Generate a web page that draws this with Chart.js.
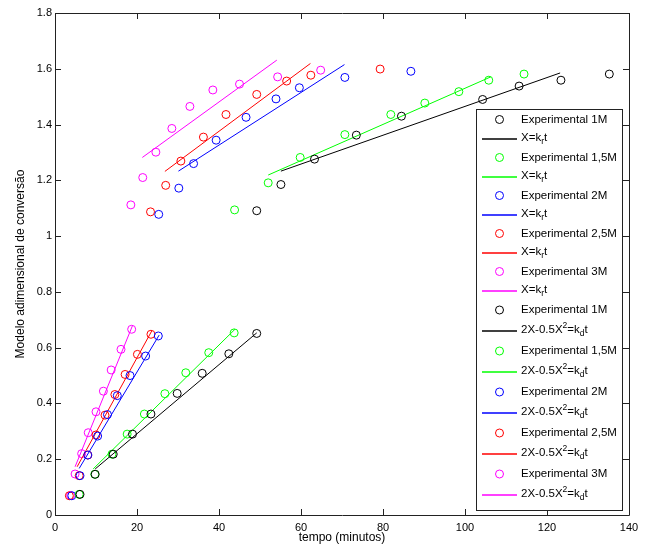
<!DOCTYPE html>
<html>
<head>
<meta charset="utf-8">
<script src="https://cdn.jsdelivr.net/npm/chart.js@4.4.0/dist/chart.umd.min.js"></script>
<style>
  html, body { margin: 0; padding: 0; background: #fff; }
  #grafico { display: block; }
</style>
</head>
<body>
<canvas id="grafico" width="656" height="545"></canvas>
<script>
// concentrações e cores (k, g, b, r, m)
const concentracoes = ['1M', '1,5M', '2M', '2,5M', '3M'];
const cores = ['#000000', '#00ff00', '#0000ff', '#ff0000', '#ff00ff'];

// pontos experimentais - modelo X = kr t (parte de cima)
const tempoR1 = [49.2, 55.1, 63.3, 73.5, 84.5, 104.3, 113.2, 123.4, 135.2];
const convR1 = [1.091, 1.185, 1.276, 1.362, 1.430, 1.490, 1.538, 1.559, 1.581];
const tempoR15 = [43.8, 52.0, 59.8, 70.7, 81.9, 90.2, 98.5, 105.8, 114.4];
const convR15 = [1.094, 1.191, 1.282, 1.364, 1.436, 1.477, 1.518, 1.559, 1.581];
const tempoR2 = [25.3, 30.2, 33.8, 39.3, 46.6, 53.9, 59.6, 70.7, 86.8];
const convR2 = [1.078, 1.172, 1.260, 1.344, 1.426, 1.492, 1.532, 1.569, 1.591];
const tempoR25 = [23.3, 27.0, 30.7, 36.2, 41.7, 49.2, 56.5, 62.4, 79.3];
const convR25 = [1.087, 1.182, 1.269, 1.355, 1.436, 1.508, 1.556, 1.577, 1.599];
const tempoR3 = [18.5, 21.4, 24.6, 28.5, 32.9, 38.5, 45.0, 54.3, 64.8];
const convR3 = [1.112, 1.210, 1.301, 1.386, 1.465, 1.524, 1.545, 1.571, 1.595];

// retas ajustadas X = kr t (início e fim)
const retaTempoR = [[55.1, 123.2], [52.0, 106.3], [30.1, 70.6], [26.8, 62.3], [21.3, 54.1]];
const retaConvR = [[1.233, 1.585], [1.219, 1.571], [1.233, 1.615], [1.232, 1.619], [1.282, 1.631]];

// pontos experimentais - modelo 2X-0.5X^2 = kd t (parte de baixo)
const tempoD1 = [6.1, 9.8, 14.2, 18.9, 23.4, 29.8, 35.9, 42.4, 49.2];
const convD1 = [0.074, 0.146, 0.218, 0.290, 0.362, 0.436, 0.508, 0.578, 0.651];
const tempoD15 = [5.9, 9.7, 13.9, 17.6, 21.8, 26.8, 31.9, 37.5, 43.7];
const convD15 = [0.074, 0.146, 0.218, 0.290, 0.362, 0.435, 0.510, 0.582, 0.653];
const tempoD2 = [4.1, 6.1, 8.0, 10.4, 12.8, 15.2, 18.3, 22.1, 25.2];
const convD2 = [0.069, 0.141, 0.215, 0.283, 0.360, 0.428, 0.500, 0.570, 0.642];
const tempoD25 = [3.5, 5.9, 8.0, 10.0, 12.2, 14.6, 17.1, 20.1, 23.4];
const convD25 = [0.069, 0.141, 0.215, 0.287, 0.358, 0.432, 0.504, 0.576, 0.648];
const tempoD3 = [3.8, 4.9, 6.5, 8.1, 10.0, 11.8, 13.7, 16.1, 18.7];
const convD3 = [0.070, 0.147, 0.220, 0.295, 0.370, 0.444, 0.520, 0.594, 0.666];

// retas ajustadas 2X-0.5X^2 = kd t
const retaTempoD = [[9.8, 49.2], [9.3, 43.9], [5.9, 25.4], [5.4, 23.6], [4.9, 18.9]];
const retaConvD = [[0.165, 0.653], [0.165, 0.666], [0.167, 0.645], [0.173, 0.660], [0.173, 0.679]];

const ticksX = [0, 20, 40, 60, 80, 100, 120, 140];
const ticksY = [0, 0.2, 0.4, 0.6, 0.8, 1, 1.2, 1.4, 1.6, 1.8];

const expR = [[tempoR1, convR1], [tempoR15, convR15], [tempoR2, convR2], [tempoR25, convR25], [tempoR3, convR3]];
const expD = [[tempoD1, convD1], [tempoD15, convD15], [tempoD2, convD2], [tempoD25, convD25], [tempoD3, convD3]];

function pontos(t, x) {
    return t.map((v, i) => ({ x: v, y: x[i] }));
}

const FONTE = '"Liberation Sans", Arial, sans-serif';

// monta os datasets e a legenda na mesma ordem
const datasets = [];
const legenda = [];
const formulaR = [{ t: 'X=k' }, { t: 'r', sub: true }, { t: 't' }];
const formulaD = [{ t: '2X-0.5X' }, { t: '2', sup: true }, { t: '=k' }, { t: 'd', sub: true }, { t: 't' }];

function adiciona(exp, retaT, retaC, formula) {
    exp.forEach(([t, c], i) => {
        datasets.push({
            data: pontos(t, c),
            borderColor: cores[i],
            backgroundColor: 'rgba(0,0,0,0)',
            pointRadius: 4,
            pointBorderWidth: 1,
            showLine: false
        });
        datasets.push({
            data: pontos(retaT[i], retaC[i]),
            borderColor: cores[i],
            borderWidth: 1,
            pointRadius: 0,
            showLine: true
        });
        legenda.push({ tipo: 'ponto', cor: cores[i], partes: [{ t: 'Experimental ' + concentracoes[i] }] });
        legenda.push({ tipo: 'linha', cor: cores[i], partes: formula });
    });
}
adiciona(expR, retaTempoR, retaConvR, formulaR);
adiciona(expD, retaTempoD, retaConvD, formulaD);

function escreve(ctx, partes, x, y) {
    for (const p of partes) {
        const pequeno = p.sub || p.sup;
        ctx.font = (pequeno ? 8.5 : 11.5) + 'px ' + FONTE;
        const dy = p.sub ? 4 : (p.sup ? -4 : 0);
        ctx.fillText(p.t, x, y + dy);
        x += ctx.measureText(p.t).width;
    }
}

// moldura com ticks para dentro, estilo matlab
const moldura = {
    id: 'moldura',
    afterDraw(chart) {
        const { ctx, chartArea: a, scales } = chart;
        ctx.save();
        ctx.strokeStyle = '#222';
        ctx.lineWidth = 1;
        ctx.beginPath();
        ctx.rect(Math.round(a.left) + 0.5, Math.round(a.top) + 0.5,
            Math.round(a.right - a.left), Math.round(a.bottom - a.top));
        const tam = 6;
        ticksX.forEach(v => {
            const px = Math.round(scales.x.getPixelForValue(v)) + 0.5;
            ctx.moveTo(px, a.bottom); ctx.lineTo(px, a.bottom - tam);
            ctx.moveTo(px, a.top); ctx.lineTo(px, a.top + tam);
        });
        ticksY.forEach(v => {
            const py = Math.round(scales.y.getPixelForValue(v)) + 0.5;
            ctx.moveTo(a.left, py); ctx.lineTo(a.left + tam, py);
            ctx.moveTo(a.right, py); ctx.lineTo(a.right - tam, py);
        });
        ctx.stroke();

        // legenda
        const caixa = { x: 476.5, y: 109.5, w: 146, h: 401 };
        ctx.fillStyle = '#fff';
        ctx.fillRect(caixa.x, caixa.y, caixa.w, caixa.h);
        ctx.strokeStyle = '#222';
        ctx.strokeRect(caixa.x, caixa.y, caixa.w, caixa.h);
        ctx.textBaseline = 'middle';
        ctx.textAlign = 'left';
        legenda.forEach((item, k) => {
            const y = k < 10 ? 119.5 + 19 * k : 310 + 20.5 * (k - 10);
            ctx.strokeStyle = item.cor;
            ctx.lineWidth = item.tipo === 'ponto' ? 1 : 1.3;
            ctx.beginPath();
            if (item.tipo === 'ponto') {
                ctx.arc(499.5, y, 4, 0, Math.PI * 2);
            } else {
                ctx.moveTo(482, Math.round(y));
                ctx.lineTo(517, Math.round(y));
            }
            ctx.stroke();
            ctx.fillStyle = '#000';
            escreve(ctx, item.partes, 521, item.tipo === 'ponto' ? y : y - 1);
        });
        ctx.restore();
    }
};

const rotulo = v => String(Math.round(v * 10) / 10);

new Chart(document.getElementById('grafico'), {
    type: 'scatter',
    data: { datasets },
    options: {
        responsive: false,
        animation: false,
        layout: { padding: { top: 13, right: 27, left: 0, bottom: 0 } },
        plugins: { legend: { display: false }, tooltip: { enabled: false } },
        scales: {
            x: {
                type: 'linear',
                min: 0, max: 140,
                afterFit: s => { s.height = 30; },
                afterBuildTicks: s => { s.ticks = ticksX.map(v => ({ value: v })); },
                grid: { display: false, drawTicks: false },
                border: { display: false },
                ticks: { color: '#000', padding: 6, callback: rotulo, font: { size: 11, family: FONTE } },
                title: { display: true, text: 'tempo (minutos)', color: '#000', padding: 0, font: { size: 12, family: FONTE } }
            },
            y: {
                type: 'linear',
                min: 0, max: 1.8,
                afterFit: s => { s.width = 55; },
                afterBuildTicks: s => { s.ticks = ticksY.map(v => ({ value: v })); },
                grid: { display: false, drawTicks: false },
                border: { display: false },
                ticks: { color: '#000', padding: 3, callback: rotulo, font: { size: 11, family: FONTE } },
                title: { display: true, text: 'Modelo adimensional de conversão', color: '#000', padding: { top: 13, bottom: 0 }, font: { size: 12, family: FONTE } }
            }
        }
    },
    plugins: [moldura]
});
</script>
</body>
</html>
